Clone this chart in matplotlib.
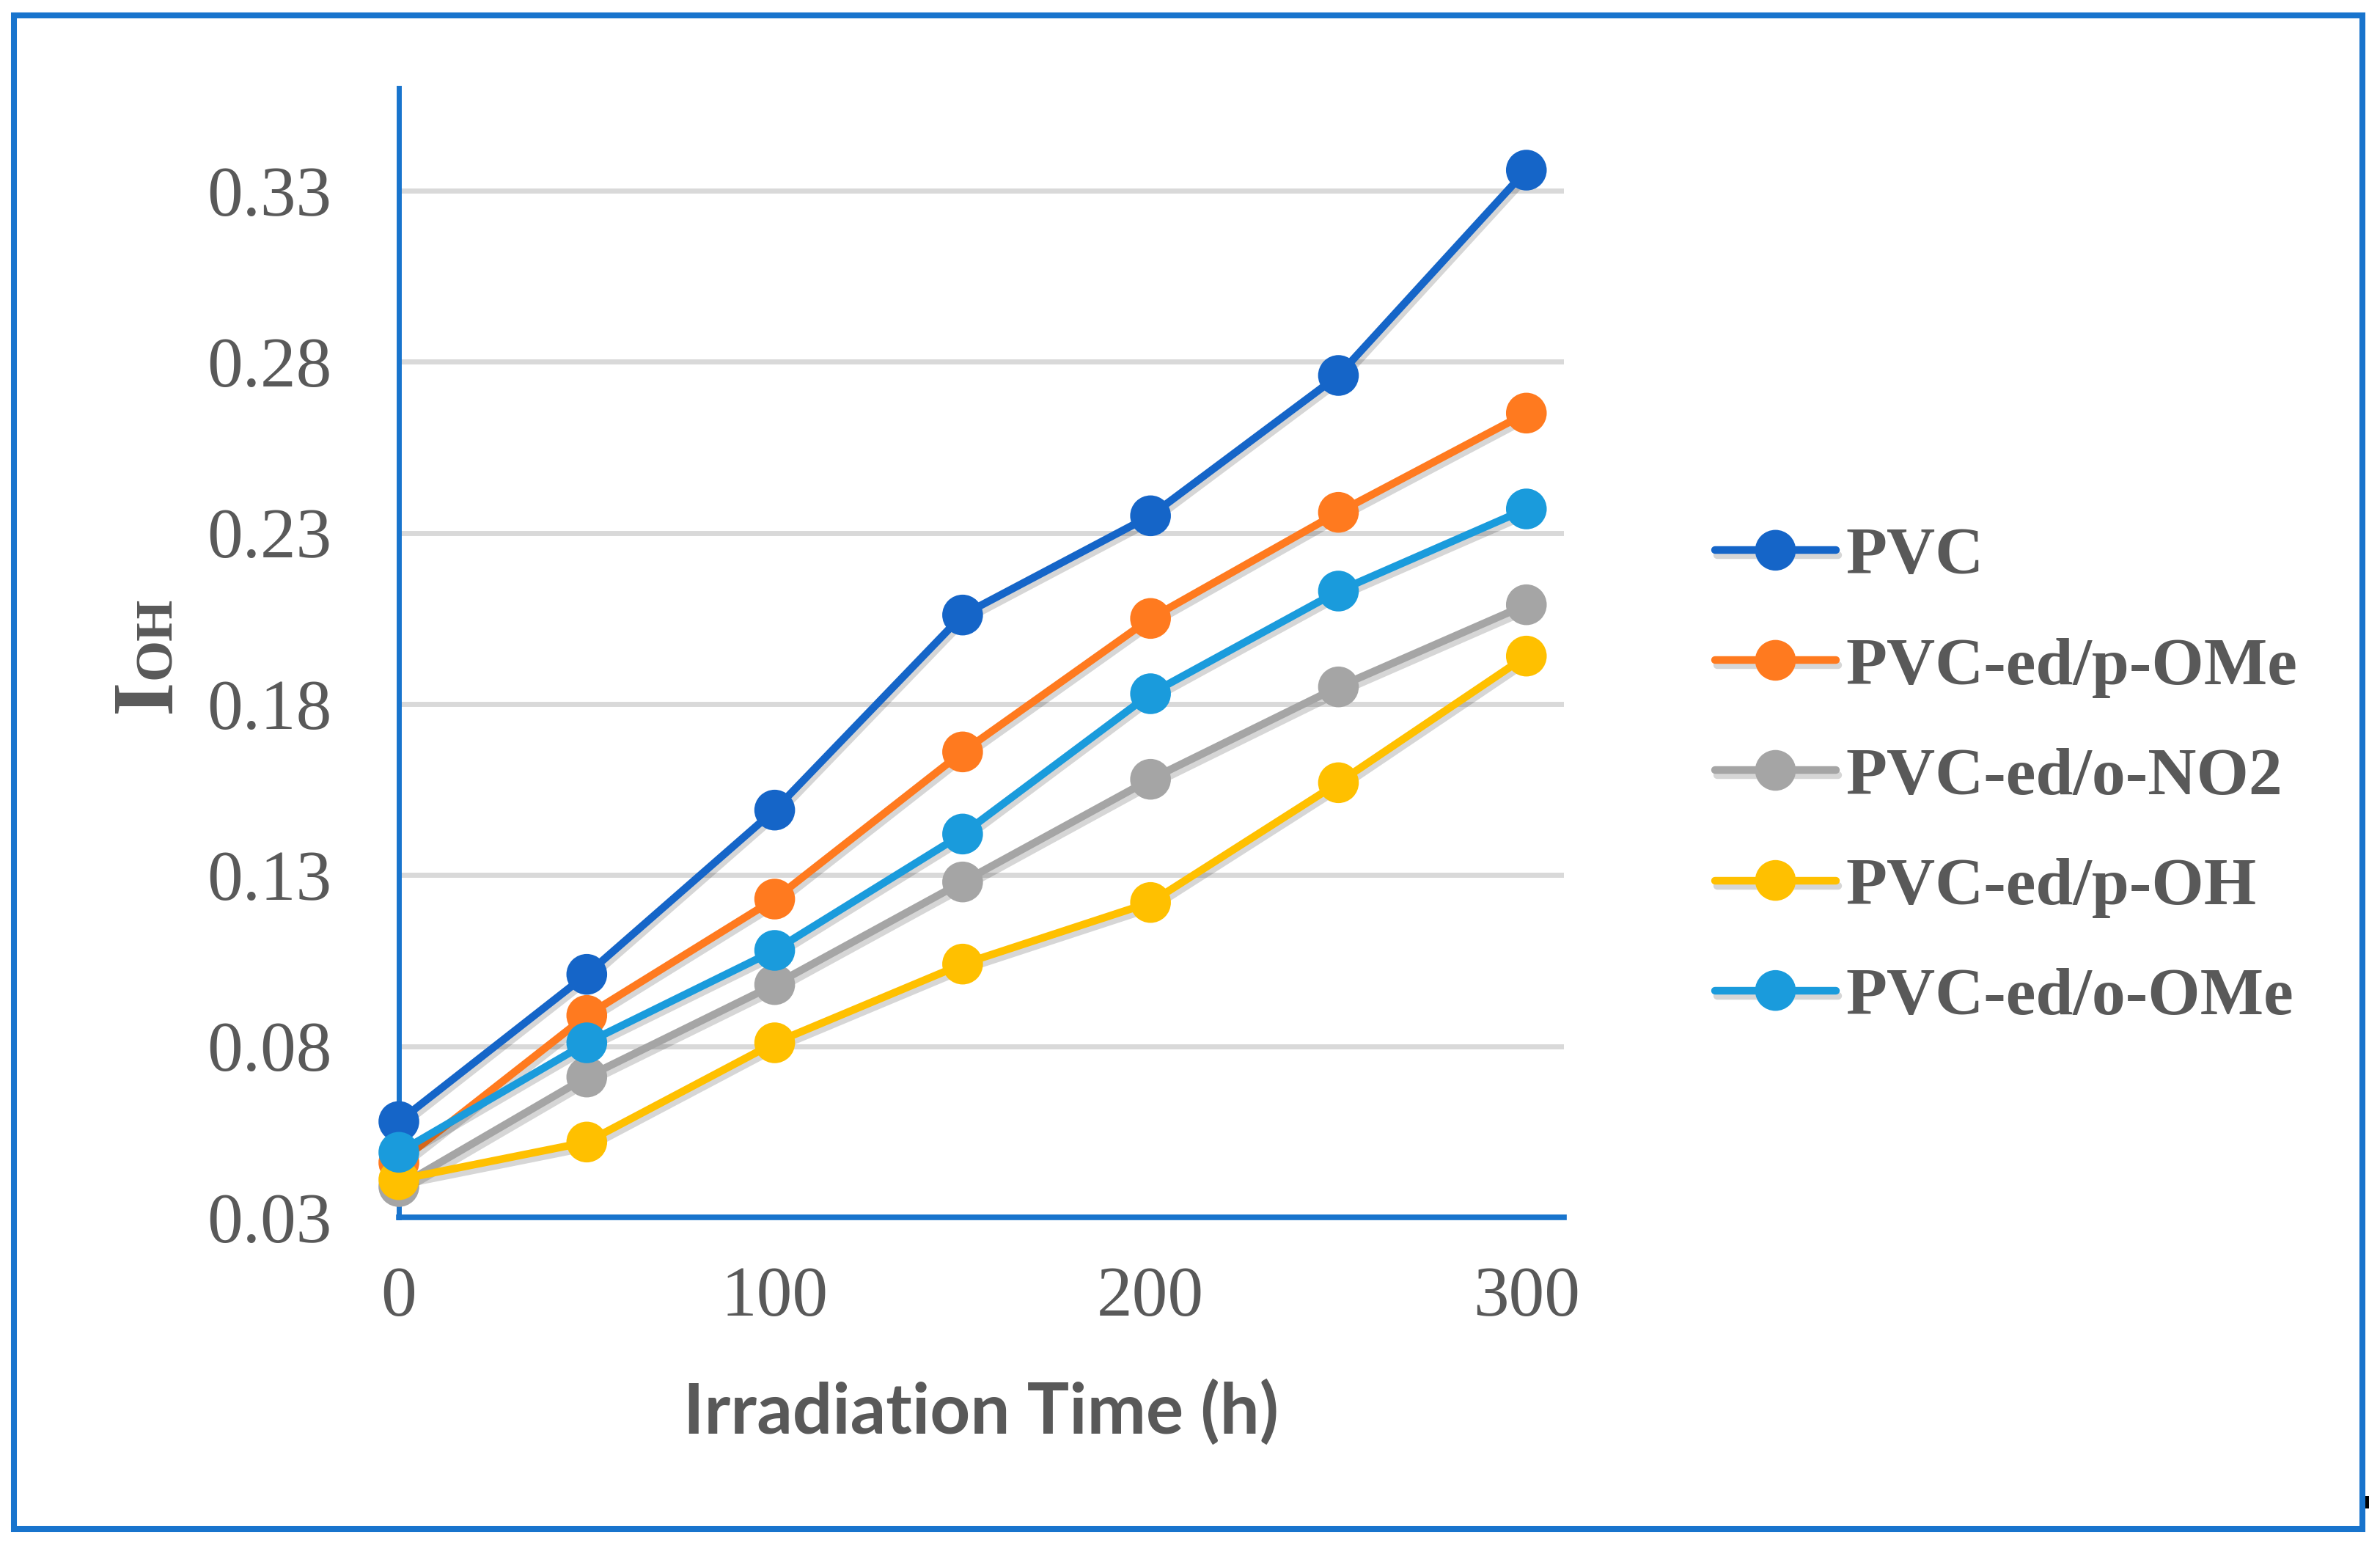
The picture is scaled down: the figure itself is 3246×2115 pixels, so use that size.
import matplotlib
matplotlib.use("Agg")
import matplotlib.pyplot as plt
import matplotlib.patheffects as pe
from matplotlib.patches import Rectangle

# ---- data ----
time_h = [0, 50, 100, 150, 200, 250, 300]
pvc = [0.058, 0.101, 0.149, 0.206, 0.235, 0.276, 0.336]
pvc_p_ome = [0.046, 0.089, 0.123, 0.166, 0.205, 0.236, 0.265]
pvc_o_no2 = [0.039, 0.071, 0.098, 0.128, 0.158, 0.185, 0.209]
pvc_p_oh = [0.041, 0.052, 0.081, 0.104, 0.122, 0.157, 0.194]
pvc_o_ome = [0.049, 0.081, 0.108, 0.142, 0.183, 0.213, 0.237]

series_labels = ["PVC", "PVC-ed/p-OMe", "PVC-ed/o-NO2", "PVC-ed/p-OH", "PVC-ed/o-OMe"]
series_values = [pvc, pvc_p_ome, pvc_o_no2, pvc_p_oh, pvc_o_ome]
series_colors = ["#1565C8", "#FF7A1F", "#A5A5A5", "#FFC000", "#1A9BDC"]

x_ticks = [0, 100, 200, 300]
y_ticks = [0.03, 0.08, 0.13, 0.18, 0.23, 0.28, 0.33]
y_tick_labels = ["0.03", "0.08", "0.13", "0.18", "0.23", "0.28", "0.33"]

W, H = 3246, 2115
fig = plt.figure(figsize=(W / 100, H / 100), dpi=100)
fig.patch.set_facecolor("white")

# outer blue frame
fig.patches.append(Rectangle((19 / W, 1 - 2085 / H), (3222 - 19) / W, (2085 - 21) / H,
                             transform=fig.transFigure, fill=False,
                             edgecolor="#1874CD", linewidth=5.8))
fig.patches.append(Rectangle((3226 / W, 1 - 2057 / H), 5 / W, 17 / H,
                             transform=fig.transFigure, facecolor="black", edgecolor="none"))

left, right = 544 / W, 2133 / W
bottom, top = 1 - 1660 / H, 1 - 120 / H
ax = fig.add_axes([left, bottom, right - left, top - bottom])

text_gray = "#595959"
spine_blue = "#1874CD"

shadow = [pe.SimpleLineShadow(offset=(2, -5), shadow_color="black", alpha=0.16), pe.Normal()]

for lab, vals, col in zip(series_labels, series_values, series_colors):
    ax.plot(time_h, vals, color=col, linewidth=7.5, marker="o", markersize=40,
            markeredgewidth=0, label=lab, path_effects=shadow, solid_capstyle="round",
            clip_on=False, zorder=3)

ax.set_xlim(0, 310)
ax.set_ylim(0.03, 0.36)
ax.set_xticks(x_ticks)
ax.set_yticks(y_ticks)
ax.set_yticklabels(y_tick_labels)

ax.grid(axis="y", color="#D9D9D9", linewidth=5, zorder=0)
ax.set_axisbelow(True)
for s in ["top", "right"]:
    ax.spines[s].set_visible(False)
ax.spines["left"].set_color(spine_blue)
ax.spines["left"].set_linewidth(5)
ax.spines["bottom"].set_color(spine_blue)
ax.spines["bottom"].set_linewidth(5.5)
ax.spines["left"].set_zorder(2)
ax.spines["bottom"].set_zorder(2)

ax.tick_params(axis="both", length=0, labelcolor=text_gray, labelsize=70)
ax.tick_params(axis="x", pad=48)
ax.tick_params(axis="y", pad=66)
for t in ax.get_xticklabels() + ax.get_yticklabels():
    t.set_fontfamily("Liberation Serif")

ax.set_xlabel("Irradiation Time (h)", fontfamily="Lato", fontweight="bold",
              fontsize=69, color=text_gray)
ax.xaxis.label.set_va("center")
ax.xaxis.set_label_coords(0.5, (1660 - 1926) / (1660 - 120))

# y label: "I" with small-caps "OH"
fig.text(232 / W, 1 - 972 / H, "I", rotation=90, rotation_mode="anchor",
         ha="left", va="baseline", fontfamily="Liberation Serif", fontweight="bold",
         fontsize=86, color=text_gray)
fig.text(232 / W, 1 - 926 / H, "OH", rotation=90, rotation_mode="anchor",
         ha="left", va="baseline", fontfamily="Liberation Serif", fontweight="bold",
         fontsize=52, color=text_gray)

leg = ax.legend(loc="center left", bbox_to_anchor=(2339 / W, 1 - 1060 / H),
                bbox_transform=fig.transFigure, frameon=False, borderpad=0,
                borderaxespad=0, handlelength=1.8, handletextpad=0.15,
                labelspacing=0.73,
                prop={"family": "Liberation Serif", "weight": "bold", "size": 66})
for t in leg.get_texts():
    t.set_color(text_gray)

fig.savefig("out.png", dpi=100, facecolor="white")
